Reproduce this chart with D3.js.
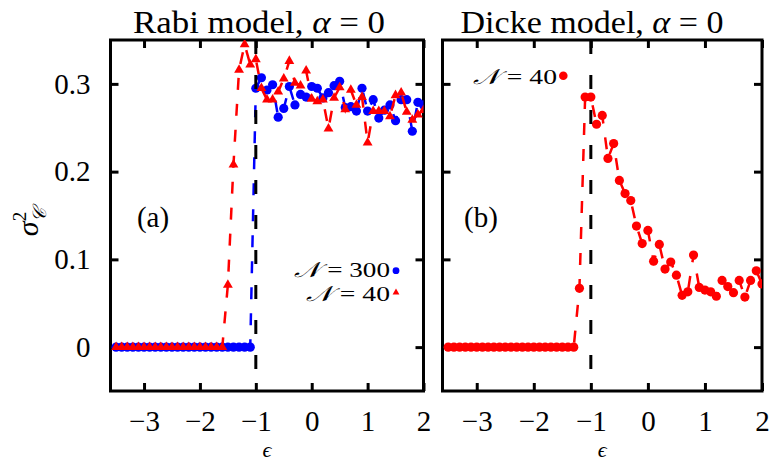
<!DOCTYPE html>
<html><head><meta charset="utf-8">
<script src="https://cdn.jsdelivr.net/npm/d3@7"></script>
<style>
body{margin:0;background:#fff}
svg{display:block}
text{font-family:"Liberation Serif","DejaVu Serif",serif;fill:#000}
</style>
</head><body>
<svg id="chart" width="772" height="462"></svg>
<script>
// ---- data ----
const epsilon = [-3.5,-3.4,-3.3,-3.2,-3.1,-3.0,-2.9,-2.8,-2.7,-2.6,-2.5,-2.4,-2.3,-2.2,-2.1,-2.0,-1.9,-1.8,-1.7,-1.6,-1.5,-1.4,-1.3,-1.2,-1.1,-1.0,-0.9,-0.8,-0.7,-0.6,-0.5,-0.4,-0.3,-0.2,-0.1,0.0,0.1,0.2,0.3,0.4,0.5,0.6,0.7,0.8,0.9,1.0,1.1,1.2,1.3,1.4,1.5,1.6,1.7,1.8,1.9,2.0];
const rabiN300 = [0,0,0,0,0,0,0,0,0,0,0,0,0,0,0,0,0,0,0,0,0,0,0,0,0,
  0.295,0.307,0.293,0.299,0.262,0.272,0.297,0.276,0.288,0.285,0.297,0.295,0.284,0.290,0.298,0.303,0.273,0.274,0.269,0.295,0.269,0.282,0.261,0.270,0.276,0.258,0.282,0.282,0.246,0.279,0.276];
const rabiN40 = [0,0,0,0,0,0,0,0,0,0,0,0,0,0,0,0,0,0,0,0,
  0.071,0.208,0.316,0.345,0.322,0.328,0.295,0.282,0.282,0.291,0.306,0.326,0.301,0.298,0.315,0.283,0.280,0.282,0.249,0.284,0.296,0.271,0.293,0.276,0.285,0.233,0.269,0.269,0.269,0.263,0.287,0.290,0.268,0.259,0.265,0.270];
const dickeN40 = [0,0,0,0,0,0,0,0,0,0,0,0,0,0,0,0,0,0,0,0,0,0,0,
  0.067,0.285,0.285,0.254,0.264,0.215,0.232,0.190,0.175,0.167,0.138,0.118,0.133,0.098,0.117,0.089,0.097,0.082,0.059,0.063,0.105,0.068,0.065,0.063,0.058,0.076,0.069,0.062,0.076,0.057,0.076,0.087,0.072];
const xTicks = [-3,-2,-1,0,1,2];
const yTicks = [0,0.1,0.2,0.3];
const criticalEps = -1;
const xDomain = [-3.6, 2];
const yDomain = [-0.05, 0.35];

const svg = d3.select("#chart");
const yTop = 40, yBottom = 391;
const y = d3.scaleLinear().domain(yDomain).range([yBottom, yTop]);
const panels = [
  {x0:110.5, x1:423.5, title:["Rabi model, ","α"," = 0"], titleX:259, titleW:252, label:"(a)", labelX:153},
  {x0:442.5, x1:762,   title:["Dicke model, ","α"," = 0"], titleX:592, titleW:263, label:"(b)", labelX:481}
];
const fmtX = d => d < 0 ? "\u2212" + Math.abs(d) : String(d);

panels.forEach((p, i) => {
  const x = d3.scaleLinear().domain(xDomain).range([p.x0, p.x1]);
  p.x = x;
  const g = svg.append("g");
  const clipId = "clip" + i;
  svg.append("clipPath").attr("id", clipId).append("rect")
    .attr("x", p.x0).attr("y", yTop).attr("width", p.x1 - p.x0).attr("height", yBottom - yTop);

  const ab = g.append("g").attr("transform", `translate(0,${yBottom})`)
    .call(d3.axisBottom(x).tickValues(xTicks).tickSize(-8).tickPadding(19).tickFormat(fmtX));
  const at = g.append("g").attr("transform", `translate(0,${yTop})`)
    .call(d3.axisTop(x).tickValues(xTicks).tickSize(-8).tickFormat(""));
  const al = g.append("g").attr("transform", `translate(${p.x0},0)`)
    .call(d3.axisLeft(y).tickValues(yTicks).tickSize(-8).tickPadding(20)
      .tickFormat(i === 0 ? (d => d === 0 ? "0" : d3.format(".1f")(d)) : ""));
  const ar = g.append("g").attr("transform", `translate(${p.x1},0)`)
    .call(d3.axisRight(y).tickValues(yTicks).tickSize(-8).tickFormat(""));
  [ab, at, al, ar].forEach(a => {
    a.select(".domain").remove();
    a.selectAll(".tick line").attr("stroke", "#000").attr("stroke-width", 3);
    a.selectAll("text").style("font-size", "29px").attr("fill", "#000")
      .style("font-family", '"Liberation Serif",serif');
  });
  ab.selectAll("text").attr("dy", "0.71em");

  g.append("rect").attr("x", p.x0).attr("y", yTop).attr("width", p.x1 - p.x0).attr("height", yBottom - yTop)
    .attr("fill", "none").attr("stroke", "#000").attr("stroke-width", 3);

  const t = g.append("text").attr("x", p.titleX).attr("y", 33)
    .attr("text-anchor", "middle").style("font-size", "31px")
    .attr("textLength", p.titleW).attr("lengthAdjust", "spacingAndGlyphs");
  t.append("tspan").text(p.title[0]);
  t.append("tspan").style("font-style", "italic").text(p.title[1]);
  t.append("tspan").text(p.title[2]);

  g.append("text").attr("x", (p.x0 + p.x1) / 2).attr("y", 457).attr("text-anchor", "middle")
    .style("font-size", "22px").style("font-style", "italic").text("\u03F5");

  g.append("text").attr("x", p.labelX).attr("y", 227).attr("text-anchor", "middle")
    .style("font-size", "29px").text(p.label);

  p.data = svg.append("g").attr("clip-path", `url(#${clipId})`);
});

const line = (x, vals) => d3.line().x((d, j) => x(epsilon[j])).y(d => y(d))(vals);

{
  const p = panels[0], x = p.x, g = p.data;
  g.append("path").attr("d", line(x, rabiN300)).attr("fill", "none")
    .attr("stroke", "#0000ff").attr("stroke-width", 2.5).attr("stroke-dasharray", "12,14");
  g.selectAll(".b").data(rabiN300).join("circle")
    .attr("cx", (d, j) => x(epsilon[j])).attr("cy", d => y(d)).attr("r", 4.6).attr("fill", "#0000ff");
  g.append("path").attr("d", line(x, rabiN40)).attr("fill", "none")
    .attr("stroke", "#ff0000").attr("stroke-width", 2.5).attr("stroke-dasharray", "12,14");
  const tri = d3.symbol().type(d3.symbolTriangle).size(42);
  g.selectAll(".r").data(rabiN40).join("path")
    .attr("transform", (d, j) => `translate(${x(epsilon[j])},${y(d)})`).attr("d", tri).attr("fill", "#ff0000");
  g.append("line").attr("x1", x(criticalEps)).attr("x2", x(criticalEps)).attr("y1", yTop).attr("y2", yBottom)
    .attr("stroke", "#000").attr("stroke-width", 3).attr("stroke-dasharray", "14,21");
}
{
  const p = panels[1], x = p.x, g = p.data;
  g.append("path").attr("d", line(x, dickeN40)).attr("fill", "none")
    .attr("stroke", "#ff0000").attr("stroke-width", 2.5).attr("stroke-dasharray", "12,14");
  g.selectAll(".d").data(dickeN40).join("circle")
    .attr("cx", (d, j) => x(epsilon[j])).attr("cy", d => y(d)).attr("r", 4.6).attr("fill", "#ff0000");
  g.append("line").attr("x1", x(criticalEps)).attr("x2", x(criticalEps)).attr("y1", yTop).attr("y2", yBottom)
    .attr("stroke", "#000").attr("stroke-width", 3).attr("stroke-dasharray", "14,21");
}

function legendText(xr, yc, n, w) {
  const t = svg.append("text").attr("x", xr).attr("y", yc).attr("dy", "0.35em")
    .attr("text-anchor", "end").style("font-size", "21.5px")
    .attr("textLength", w).attr("lengthAdjust", "spacingAndGlyphs");
  t.append("tspan").style("font-style", "italic").text("\uD835\uDCA9");
  t.append("tspan").text(" = " + n);
}
legendText(390, 269.5, "300", 96);
svg.append("circle").attr("cx", 396).attr("cy", 270.7).attr("r", 3.4).attr("fill", "#0000ff");
legendText(390, 293.5, "40", 84);
svg.append("path").attr("transform", "translate(396,292.5)")
  .attr("d", d3.symbol().type(d3.symbolTriangle).size(20)).attr("fill", "#ff0000");
legendText(557, 76, "40", 84);
svg.append("circle").attr("cx", 563.3).attr("cy", 75.7).attr("r", 4.3).attr("fill", "#ff0000");

const yl = svg.append("text").attr("transform", "translate(38,222) rotate(-90)")
  .attr("text-anchor", "middle").style("font-size", "30px");
yl.append("tspan").style("font-style", "italic").text("σ");
yl.append("tspan").attr("dy", -12).style("font-size", "19px").text("2");
yl.append("tspan").attr("dx", -10).attr("dy", 20).style("font-size", "19px").style("font-style", "italic").text("\uD835\uDC9E");
</script>
</body></html>
